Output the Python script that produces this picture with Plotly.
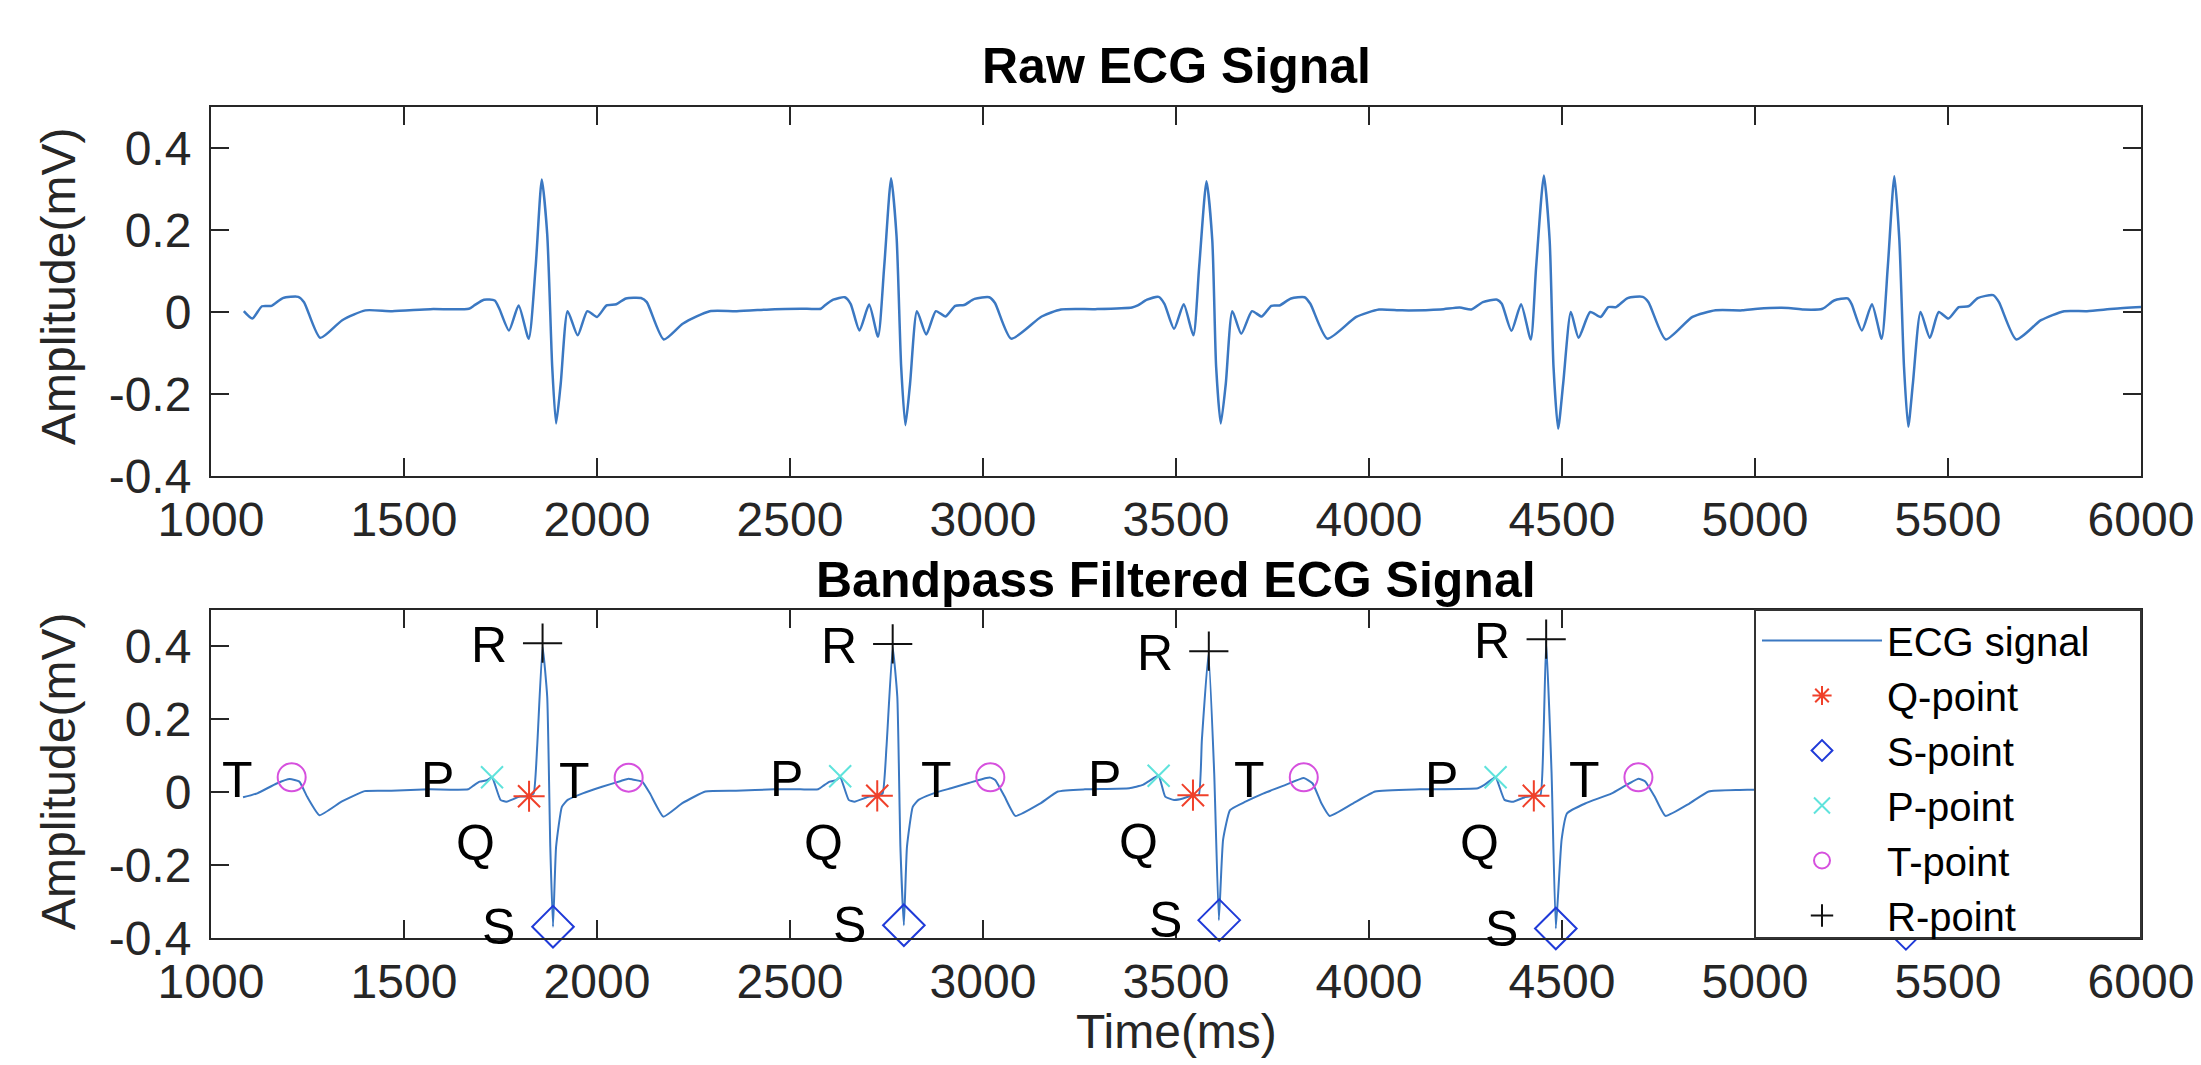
import plotly.graph_objects as go

# ---------------- data ----------------
raw_t = [1085, 1107, 1132, 1157, 1186, 1226, 1241, 1283, 1340, 1400, 1469, 1568, 1668, 1682, 1707, 1735,
         1747, 1772, 1797, 1823, 1841, 1857, 1871, 1884, 1894, 1906, 1924, 1950, 1975, 2000, 2025, 2050,
         2075, 2114, 2129, 2173, 2223, 2292, 2362, 2461, 2529,
         2580, 2590, 2612, 2642, 2657, 2680, 2705, 2728, 2744, 2762, 2776, 2788, 2799, 2811, 2829, 2853,
         2878, 2903, 2928, 2951, 2978, 3016, 3031, 3073, 3152, 3202, 3291, 3386,
         3401, 3425, 3455, 3470, 3495, 3520, 3545, 3560, 3579, 3594, 3604, 3616, 3629, 3646, 3669, 3697,
         3722, 3747, 3768, 3798, 3833, 3848, 3892, 3967, 4026, 4086, 4185, 4235, 4265,
         4295, 4332, 4344, 4369, 4394, 4419, 4433, 4453, 4468, 4478, 4490, 4503, 4523, 4543, 4573, 4600,
         4620, 4640, 4670, 4709, 4724, 4769, 4838, 4898, 4967, 5007, 5086, 5126, 5175,
         5205, 5240, 5250, 5277, 5303, 5328, 5344, 5361, 5374, 5386, 5397, 5409, 5429, 5453, 5476, 5501,
         5528, 5553, 5577, 5617, 5632, 5677, 5741, 5801, 5860, 5930, 6000]
raw_v = [0.002, -0.016, 0.014, 0.015, 0.034, 0.037, 0.024, -0.063, -0.020, 0.004, 0.002, 0.007, 0.008, 0.016, 0.030, 0.028,
         0.008, -0.045, 0.016, -0.065, 0.110, 0.323, 0.190, -0.134, -0.272, -0.175, 0.002, -0.057, 0.002, -0.012, 0.016, 0.019,
         0.033, 0.034, 0.024, -0.067, -0.028, 0.002, 0.002, 0.007, 0.008,
         0.008, 0.016, 0.030, 0.036, 0.020, -0.045, 0.018, -0.060, 0.110, 0.326, 0.185, -0.134, -0.276, -0.175, 0.002, -0.055,
         0.002, -0.011, 0.015, 0.017, 0.032, 0.036, 0.022, -0.065, -0.011, 0.006, 0.007, 0.011,
         0.016, 0.030, 0.037, 0.020, -0.041, 0.019, -0.057, 0.110, 0.319, 0.175, -0.134, -0.272, -0.175, 0.002, -0.053, 0.002,
         -0.011, 0.015, 0.016, 0.033, 0.036, 0.020, -0.065, -0.012, 0.006, 0.004, 0.006, 0.011, 0.006,
         0.024, 0.030, 0.020, -0.046, 0.019, -0.067, 0.110, 0.333, 0.175, -0.134, -0.285, -0.175, 0.000, -0.063, 0.000, -0.012,
         0.012, 0.012, 0.034, 0.037, 0.024, -0.067, -0.012, 0.004, 0.004, 0.008, 0.010, 0.006, 0.008,
         0.028, 0.033, 0.020, -0.045, 0.019, -0.065, 0.110, 0.331, 0.175, -0.134, -0.280, -0.175, 0.000, -0.063, 0.000, -0.016,
         0.012, 0.014, 0.034, 0.041, 0.024, -0.067, -0.020, 0.002, 0.002, 0.008, 0.012]

filt_t = [1083, 1120, 1170, 1204, 1229, 1249, 1281, 1338, 1398, 1467, 1566, 1666, 1681, 1696, 1715, 1728,
          1750, 1765, 1800, 1824, 1836, 1845, 1859, 1871, 1879, 1886, 1894, 1909, 1924, 1963, 2013, 2062,
          2082, 2092, 2117, 2137, 2172, 2221, 2281, 2360, 2459, 2527,
          2573, 2588, 2603, 2620, 2630, 2652, 2667, 2705, 2726, 2740, 2750, 2766, 2778, 2786, 2795, 2803,
          2818, 2833, 2872, 2917, 2965, 3009, 3019, 3032, 3056, 3084, 3148, 3194, 3264, 3379,
          3414, 3432, 3455, 3472, 3495, 3518, 3544, 3559, 3567, 3584, 3599, 3611, 3622, 3640, 3680, 3727,
          3784, 3831, 3854, 3877, 3898, 3958, 4016, 4132, 4282,
          4299, 4314, 4328, 4351, 4374, 4400, 4427, 4444, 4452, 4459, 4473, 4484, 4499, 4513, 4560, 4629,
          4698, 4715, 4740, 4768, 4830, 4880, 4960, 5000, 5100,
          5190, 5215, 5235, 5257, 5272, 5310, 5333, 5345, 5352, 5366, 5378, 5385, 5391, 5399, 5414, 5429,
          5470, 5520, 5570, 5610, 5625, 5645, 5680, 5730, 5790, 5870, 6000]
filt_v = [-0.014, -0.003, 0.024, 0.036, 0.029, -0.012, -0.063, -0.026, 0.003, 0.004, 0.008, 0.008, 0.019, 0.029, 0.033, 0.041,
          -0.021, -0.026, -0.012, -0.011, -0.003, 0.125, 0.400, 0.262, -0.150, -0.369, -0.150, -0.040, -0.021, -0.003, 0.015, 0.031,
          0.037, 0.035, 0.029, -0.003, -0.067, -0.030, 0.002, 0.004, 0.008, 0.008,
          0.008, 0.019, 0.029, 0.033, 0.042, -0.021, -0.026, -0.012, -0.010, -0.003, 0.125, 0.398, 0.262, -0.150, -0.365, -0.150,
          -0.040, -0.021, -0.003, 0.011, 0.026, 0.039, 0.040, 0.033, -0.012, -0.065, -0.031, 0.002, 0.008, 0.011,
          0.020, 0.032, 0.045, -0.012, -0.021, -0.017, -0.008, -0.008, 0.143, 0.380, 0.052, -0.351, -0.130, -0.049, -0.026, -0.003,
          0.020, 0.039, 0.024, -0.031, -0.065, -0.031, 0.002, 0.008, 0.011,
          0.020, 0.032, 0.041, -0.021, -0.026, -0.015, -0.010, -0.008, 0.150, 0.415, 0.052, -0.374, -0.130, -0.058, -0.031, -0.003,
          0.037, 0.030, -0.012, -0.065, -0.031, 0.002, 0.006, 0.007, 0.008,
          0.020, 0.032, 0.042, -0.021, -0.026, -0.012, -0.010, -0.003, 0.130, 0.405, 0.262, -0.150, -0.375, -0.150, -0.040, -0.021,
          -0.003, 0.015, 0.031, 0.039, 0.030, -0.003, -0.067, -0.030, 0.002, 0.004, 0.008]

q_t = [1824, 2726, 3544, 4427, 5333]
q_v = [-0.011, -0.010, -0.008, -0.010, -0.010]
s_t = [1886, 2795, 3612, 4484, 5391]
s_v = [-0.369, -0.365, -0.351, -0.374, -0.375]
p_t = [1728, 2630, 3455, 4328, 5235]
p_v = [0.041, 0.044, 0.045, 0.041, 0.042]
tw_t = [1209, 2082, 3019, 3831, 4698, 5610]
tw_v = [0.041, 0.040, 0.041, 0.041, 0.041, 0.040]
r_t = [1859, 2766, 3585, 4459, 5366]
r_v = [0.409, 0.407, 0.387, 0.420, 0.410]

x_ticks = [1000, 1500, 2000, 2500, 3000, 3500, 4000, 4500, 5000, 5500, 6000]
y_ticks = [-0.4, -0.2, 0, 0.2, 0.4]
y_ticktext = ["-0.4", "-0.2", "0", "0.2", "0.4"]

# ---------------- styling / layout ----------------
FONT = "Liberation Sans, Arial, Helvetica, sans-serif"
AX = "#262626"
TICK_SIZE = 48
LINE_BLUE = "#3b78c2"

# the page body adds an 8px margin, so the figure is sized to fit the 2201x1065 window
OFF = 8
W, H = 2201 - OFF, 1065 - OFF
# page-pixel geometry of the plot areas
PL, PR, PT, PB = 211, 2141, 107, 938
L, R, T, B = PL - OFF, W - (PR - OFF), PT - OFF, H - (PB - OFF)
PW, PH = PR - PL, PB - PT


def px(xp):
    return (xp - PL) / PW


def py(yp):
    return (PB - yp) / PH


top_dom = [py(476), 1.0]
bot_dom = [0.0, py(610)]

fig = go.Figure()

fig.add_trace(go.Scatter(x=raw_t, y=raw_v, mode="lines", xaxis="x", yaxis="y",
                         line=dict(color=LINE_BLUE, width=2.5, shape="spline", smoothing=0.6),
                         showlegend=False))

fig.add_trace(go.Scatter(x=filt_t, y=filt_v, mode="lines", xaxis="x2", yaxis="y2", name="ECG signal",
                         line=dict(color=LINE_BLUE, width=2, shape="spline", smoothing=0.4)))

marker_specs = [
    ("Q-point", q_t, q_v, "asterisk-open", "#f0402a", 26, 2),
    ("S-point", s_t, s_v, "diamond-open", "#1f3ad8", 32, 2),
    ("P-point", p_t, p_v, "x-thin-open", "#5fe3dc", 22, 2),
    ("T-point", tw_t, tw_v, "circle-open", "#d650de", 28, 2),
    ("R-point", r_t, r_v, "cross-thin-open", "#111111", 28, 2),
]
for name, xs, ys, sym, col, sz, lw in marker_specs:
    fig.add_trace(go.Scatter(x=xs, y=ys, mode="markers", xaxis="x2", yaxis="y2", name=name,
                             cliponaxis=False,
                             marker=dict(symbol=sym, size=sz, color=col, line=dict(color=col, width=lw))))

# point labels (offset to the left of each detected point)
annotations = []
label_sets = [("R", r_t, r_v, -0.005), ("P", p_t, p_v, -0.008), ("T", tw_t, tw_v, -0.008),
              ("Q", q_t, q_v, -0.128), ("S", s_t, s_v, 0.0)]
for lab, xs, ys, dv in label_sets:
    for xv, yv in zip(xs, ys):
        if xv - 140 < 4950:
            annotations.append(dict(x=xv - 140, y=yv + dv, xref="x2", yref="y2", text=lab, showarrow=False,
                                    xanchor="center", yanchor="middle",
                                    font=dict(family=FONT, size=50, color="black")))

# titles and axis labels
annotations += [
    dict(x=0.5, y=1.0, xref="paper", yref="paper", text="<b>Raw ECG Signal</b>", showarrow=False,
         xanchor="center", yanchor="bottom", yshift=11, font=dict(family=FONT, size=50, color="black")),
    dict(x=0.5, y=bot_dom[1], xref="paper", yref="paper", text="<b>Bandpass Filtered ECG Signal</b>",
         showarrow=False, xanchor="center", yanchor="bottom", yshift=0, font=dict(family=FONT, size=50, color="black")),
    dict(x=px(58), y=py(287), xref="paper", yref="paper", text="Amplitude(mV)",
         textangle=-90, showarrow=False, xanchor="center", yanchor="middle",
         font=dict(family=FONT, size=48, color=AX)),
    dict(x=px(58), y=py(772), xref="paper", yref="paper", text="Amplitude(mV)",
         textangle=-90, showarrow=False, xanchor="center", yanchor="middle",
         font=dict(family=FONT, size=48, color=AX)),
    dict(x=0.5, y=py(1031), xref="paper", yref="paper", text="Time(ms)", showarrow=False,
         xanchor="center", yanchor="middle", font=dict(family=FONT, size=48, color=AX)),
]

axis_common = dict(showline=True, linecolor=AX, linewidth=2, mirror="ticks", ticks="inside", ticklen=18,
                   tickwidth=2, tickcolor=AX, showgrid=False, zeroline=False,
                   tickfont=dict(family=FONT, size=TICK_SIZE, color=AX))

fig.update_layout(
    width=W, height=H,
    margin=dict(l=L, r=R, t=T, b=B, autoexpand=False),
    paper_bgcolor="white", plot_bgcolor="white",
    xaxis=dict(domain=[0, 1], anchor="y", range=[1000, 6000], tickvals=x_ticks, ticklabelstandoff=0, **axis_common),
    yaxis=dict(domain=top_dom, anchor="x", range=[-0.4, 0.5], tickvals=y_ticks, ticktext=y_ticktext,
               ticklabelstandoff=8, **axis_common),
    xaxis2=dict(domain=[0, 1], anchor="y2", range=[1000, 6000], tickvals=x_ticks, ticklabelstandoff=0, **axis_common),
    yaxis2=dict(domain=bot_dom, anchor="x2", range=[-0.4, 0.5], tickvals=y_ticks, ticktext=y_ticktext,
                ticklabelstandoff=8, **axis_common),
    showlegend=True,
    legend=dict(x=px(1757), y=py(608), xanchor="left", yanchor="top",
                bgcolor="rgba(0,0,0,0)", borderwidth=0, itemwidth=120, itemsizing="trace",
                font=dict(family=FONT, size=40, color="black"), tracegroupgap=0),
    shapes=[dict(type="rect", xref="paper", yref="paper", x0=px(1755), x1=1.0,
                 y0=bot_dom[0], y1=bot_dom[1], fillcolor="white", line=dict(color="#333333", width=2),
                 layer="above")],
    annotations=annotations,
)

fig.write_html("out.html")
